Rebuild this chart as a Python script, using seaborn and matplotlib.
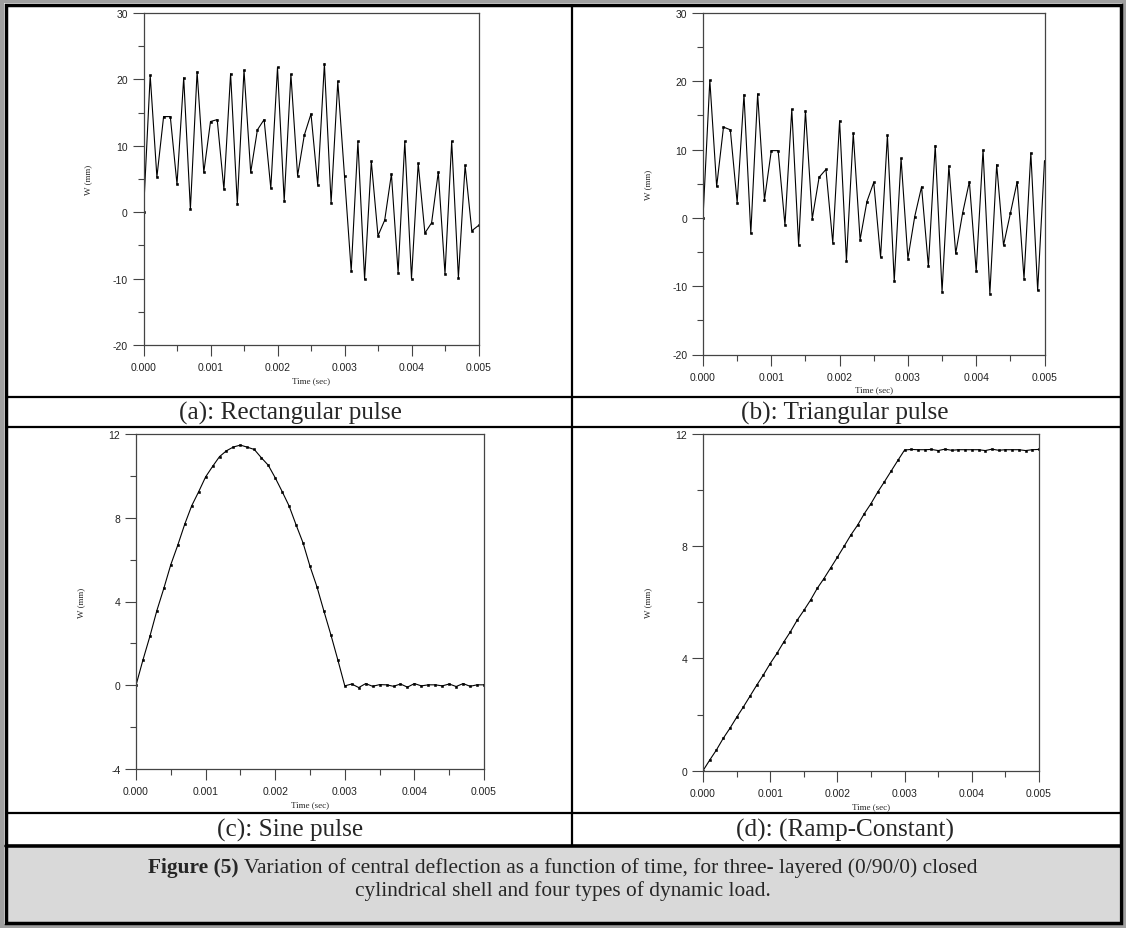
import matplotlib
matplotlib.use("Agg")
import matplotlib.pyplot as plt
from matplotlib.lines import Line2D
from matplotlib.patches import Rectangle
from matplotlib.ticker import MultipleLocator, FormatStrFormatter
import numpy as np
import seaborn as sns

# time grid of the solver output (0.1 ms step)
TIME_S = np.linspace(0.0, 0.005, 51)

W_RECT = [0, 20.6, 5.3, 14.4, 14.4, 4.2, 20.25, 0.45, 21.15, 6.0,
          13.65, 13.95, 3.45, 20.85, 1.25, 21.4, 6.0, 12.4, 13.95, 3.6,
          21.8, 1.7, 20.75, 5.5, 11.6, 14.8, 4.1, 22.35, 1.4, 19.7,
          5.45, -8.85, 10.65, -10.1, 7.65, -3.55, -1.2, 5.75, -9.1, 10.65,
          -10.0, 7.35, -3.15, -1.6, 6.05, -9.3, 10.65, -9.85, 7.05, -2.8, -2.0]

W_TRI = [0, 20.15, 4.6, 13.3, 12.9, 2.25, 18.05, -2.25, 18.15, 2.65,
         9.85, 9.85, -1.05, 15.9, -4.0, 15.65, -0.1, 5.95, 7.1, -3.65,
         14.2, -6.25, 12.4, -3.2, 2.4, 5.2, -5.75, 12.1, -9.25, 8.7,
         -5.95, 0.2, 4.55, -7.1, 10.6, -10.8, 7.6, -5.2, 0.65, 5.3,
         -7.8, 9.95, -11.1, 7.8, -4.0, 0.65, 5.3, -8.9, 9.5, -10.6, 8.35]

W_SINE = [0, 1.21, 2.34, 3.57, 4.63, 5.76, 6.69, 7.69, 8.57, 9.24,
          9.95, 10.45, 10.92, 11.2, 11.38, 11.47, 11.37, 11.26, 10.87, 10.51,
          9.91, 9.25, 8.56, 7.66, 6.8, 5.68, 4.7, 3.54, 2.41, 1.21,
          -0.03, 0.06, -0.11, 0.08, -0.05, 0.03, 0.02, -0.05, 0.06, -0.09,
          0.08, -0.03, 0.02, 0.02, -0.03, 0.06, -0.06, 0.08, -0.05, 0.02, 0.02]

W_RAMP = [0, 0.38, 0.74, 1.15, 1.51, 1.90, 2.27, 2.66, 3.05, 3.42,
          3.82, 4.18, 4.58, 4.95, 5.36, 5.71, 6.08, 6.50, 6.85, 7.23,
          7.61, 8.00, 8.40, 8.75, 9.16, 9.52, 9.93, 10.30, 10.68, 11.06,
          11.43, 11.45, 11.44, 11.44, 11.45, 11.41, 11.46, 11.42, 11.44, 11.44,
          11.44, 11.44, 11.41, 11.46, 11.42, 11.44, 11.44, 11.44, 11.41, 11.44, 11.45]

CAPTIONS = ["(a): Rectangular pulse", "(b): Triangular pulse",
            "(c): Sine pulse", "(d): (Ramp-Constant)"]
FIG_TITLE_BOLD = "Figure (5)"
FIG_TITLE_LINE1 = " Variation of central deflection as a function of time, for three- layered (0/90/0) closed"
FIG_TITLE_LINE2 = "cylindrical shell and four types of dynamic load."

W, H = 1126, 929
SANS = ["Liberation Sans", "DejaVu Sans"]
SERIF = ["Liberation Serif", "DejaVu Serif"]

sns.set_style("ticks")
plt.rcParams["font.family"] = SANS
plt.rcParams["axes.unicode_minus"] = False


def fx(x):
    return x / W


def fy(y):
    return 1 - y / H


def add_panel(fig, box, y, ylim, ymajor, yminor):
    left, top, right, bottom = box
    ax = fig.add_axes([fx(left), fy(bottom), (right - left) / W, (bottom - top) / H])
    sns.lineplot(x=TIME_S, y=y, ax=ax, color="black", linewidth=0.8,
                 marker="s", markersize=2.0, markeredgewidth=0.4,
                 markeredgecolor="black", markerfacecolor="black")
    ax.set_xlim(0, 0.005)
    ax.set_ylim(*ylim)
    ax.xaxis.set_major_locator(MultipleLocator(0.001))
    ax.xaxis.set_minor_locator(MultipleLocator(0.0005))
    ax.xaxis.set_major_formatter(FormatStrFormatter("%.3f"))
    ax.yaxis.set_major_locator(MultipleLocator(ymajor))
    ax.yaxis.set_minor_locator(MultipleLocator(yminor))
    ax.tick_params(which="major", length=7.7, width=0.8, color="#444444",
                   labelsize=7.5, labelcolor="#222222")
    ax.tick_params(axis="x", which="major", pad=4.6)
    ax.tick_params(axis="y", which="major", pad=3.6)
    ax.tick_params(which="minor", length=4.5, width=0.8, color="#444444")
    for s in ax.spines.values():
        s.set_color("#444444")
        s.set_linewidth(0.9)
    ax.set_xlabel("Time (sec)", fontfamily=SERIF, fontsize=6.5, va="center")
    ax.xaxis.set_label_coords(0.5, -(35 / (bottom - top)))
    ax.set_ylabel("W (mm)", fontfamily=SERIF, fontsize=6.5, va="center")
    ax.yaxis.set_label_coords(-(55 / (right - left)), 0.5)
    ax.set_facecolor("white")
    return ax


fig = plt.figure(figsize=(W / 100, H / 100), dpi=100)
fig.patch.set_facecolor("white")

add_panel(fig, (143.5, 14, 478.5, 346), W_RECT, (-20, 30), 10, 5)
add_panel(fig, (703, 14, 1044.5, 355.5), W_TRI, (-20, 30), 10, 5)
add_panel(fig, (136, 435, 484, 770), W_SINE, (-4, 12), 4, 2)
add_panel(fig, (703, 435, 1039, 771.7), W_RAMP, (0, 12), 4, 2)

# table frame
fig.patches.append(Rectangle((fx(7), fy(923)), fx(1112), (923 - 849) / H,
                             transform=fig.transFigure, facecolor="#d9d9d9",
                             edgecolor="none", zorder=0))
fig.patches.append(Rectangle((fx(2), fy(927)), fx(1122), 925 / H,
                             transform=fig.transFigure, facecolor="none",
                             edgecolor="#a0a0a0", linewidth=3))
fig.patches.append(Rectangle((fx(5.5), fy(923.5)), fx(1115), 918 / H,
                             transform=fig.transFigure, facecolor="none",
                             edgecolor="black", linewidth=2.5))


def hline(y, lw):
    fig.lines.append(Line2D([fx(6), fx(1120)], [fy(y), fy(y)],
                            transform=fig.transFigure, color="black", linewidth=lw))


hline(398, 1.6)
hline(428, 1.6)
hline(814, 1.6)
hline(847, 2.6)
fig.lines.append(Line2D([fx(572), fx(572)], [fy(6), fy(846)],
                        transform=fig.transFigure, color="black", linewidth=1.6))

cap_pos = [(290, 413), (845, 413), (290, 830), (845, 830)]
for text, (cx, cy) in zip(CAPTIONS, cap_pos):
    fig.text(fx(cx), fy(cy), text, ha="center", va="center",
             fontfamily=SERIF, fontsize=18.2)

renderer = fig.canvas.get_renderer()
tb = fig.text(0, fy(868), FIG_TITLE_BOLD, ha="left", va="center",
              fontfamily=SERIF, fontsize=15.4, fontweight="bold")
tr = fig.text(0, fy(868), FIG_TITLE_LINE1, ha="left", va="center",
              fontfamily=SERIF, fontsize=15.4)
wb = tb.get_window_extent(renderer).width
wr = tr.get_window_extent(renderer).width
x0 = 563 - (wb + wr) / 2
tb.set_x(fx(x0))
tr.set_x(fx(x0 + wb))
fig.text(fx(563), fy(891), FIG_TITLE_LINE2, ha="center", va="center",
         fontfamily=SERIF, fontsize=15.4)

fig.savefig("out.png", dpi=100)
